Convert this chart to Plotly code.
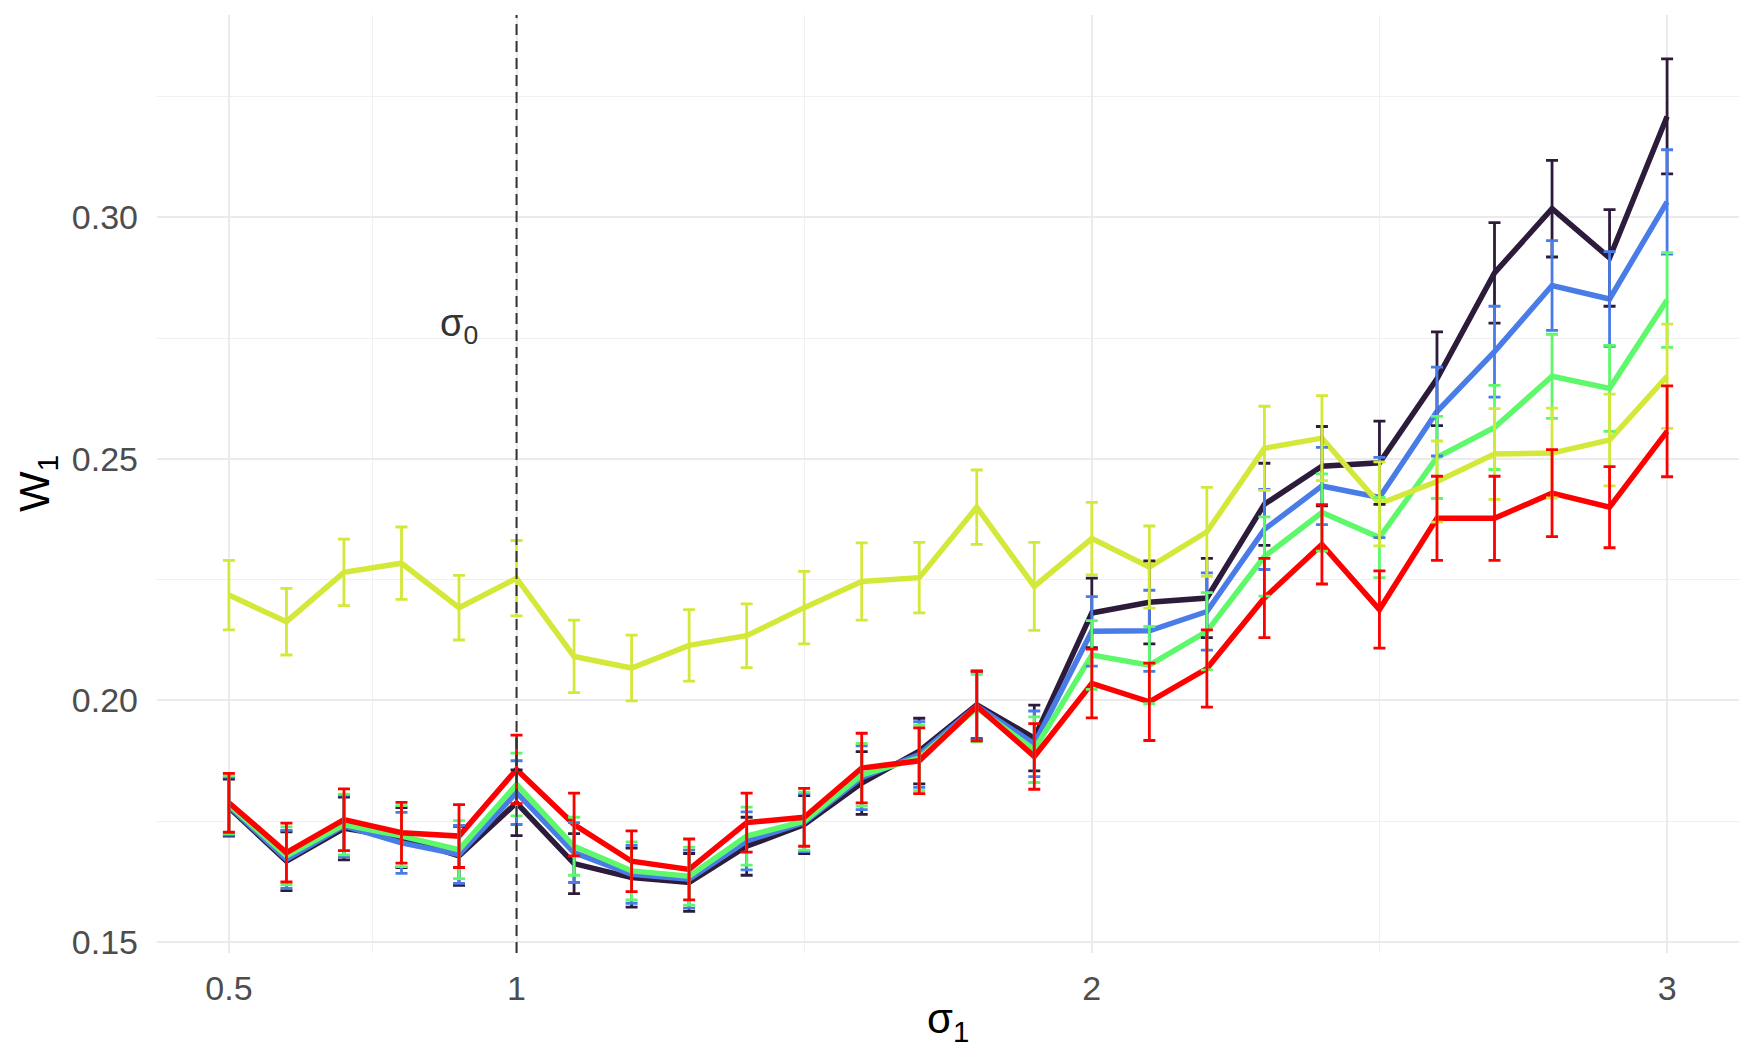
import plotly.graph_objects as go

sigma1 = [0.5, 0.6, 0.7, 0.8, 0.9, 1.0, 1.1, 1.2, 1.3, 1.4, 1.5, 1.6, 1.7,
          1.8, 1.9, 2.0, 2.1, 2.2, 2.3, 2.4, 2.5, 2.6, 2.7, 2.8, 2.9, 3.0]

w_dark = [0.1778, 0.1667, 0.1735, 0.1716, 0.1678, 0.1788, 0.1662, 0.1633, 0.1623,
          0.1698, 0.1743, 0.1829, 0.1895, 0.1991, 0.1922, 0.2181, 0.2203, 0.2212,
          0.2406, 0.2485, 0.2492, 0.2666, 0.2885, 0.3018, 0.2916, 0.3209]
e_dark = [0.0059, 0.0061, 0.0065, 0.0062, 0.0061, 0.0068, 0.0062, 0.0061, 0.0060,
          0.0060, 0.0060, 0.0065, 0.0068, 0.0070, 0.0068, 0.0072, 0.0086, 0.0082,
          0.0085, 0.0082, 0.0086, 0.0097, 0.0104, 0.0100, 0.0100, 0.0119]

w_blue = [0.1781, 0.1671, 0.1740, 0.1705, 0.1681, 0.1809, 0.1685, 0.1640, 0.1630,
          0.1709, 0.1747, 0.1840, 0.1888, 0.1988, 0.1910, 0.2143, 0.2144, 0.2184,
          0.2354, 0.2444, 0.2420, 0.2598, 0.2722, 0.2859, 0.2831, 0.3032]
e_blue = [0.0060, 0.0060, 0.0064, 0.0063, 0.0060, 0.0066, 0.0062, 0.0060, 0.0060,
          0.0060, 0.0060, 0.0066, 0.0068, 0.0070, 0.0068, 0.0072, 0.0084, 0.0080,
          0.0083, 0.0080, 0.0083, 0.0092, 0.0094, 0.0093, 0.0098, 0.0108]

w_green = [0.1784, 0.1678, 0.1743, 0.1719, 0.1691, 0.1826, 0.1698, 0.1647, 0.1636,
           0.1719, 0.1750, 0.1846, 0.1881, 0.1984, 0.1898, 0.2094, 0.2073, 0.2143,
           0.2298, 0.2389, 0.2337, 0.2503, 0.2565, 0.2671, 0.2646, 0.2829]
e_green = [0.0060, 0.0060, 0.0063, 0.0063, 0.0060, 0.0065, 0.0060, 0.0060, 0.0060,
           0.0060, 0.0060, 0.0065, 0.0068, 0.0070, 0.0068, 0.0071, 0.0080, 0.0080,
           0.0082, 0.0080, 0.0083, 0.0085, 0.0087, 0.0087, 0.0089, 0.0098]

w_yellow = [0.2218, 0.2163, 0.2265, 0.2284, 0.2192, 0.2253, 0.2091, 0.2067, 0.2114,
            0.2134, 0.2192, 0.2246, 0.2254, 0.2400, 0.2236, 0.2335, 0.2276, 0.2349,
            0.2522, 0.2543, 0.2407, 0.2453, 0.2510, 0.2512, 0.2539, 0.2671]
e_yellow = [0.0072, 0.0069, 0.0069, 0.0075, 0.0067, 0.0078, 0.0075, 0.0068, 0.0074,
            0.0066, 0.0075, 0.0080, 0.0073, 0.0077, 0.0091, 0.0075, 0.0085, 0.0092,
            0.0087, 0.0088, 0.0087, 0.0084, 0.0094, 0.0093, 0.0095, 0.0108]

w_red = [0.1788, 0.1685, 0.1753, 0.1726, 0.1719, 0.1857, 0.1743, 0.1667, 0.1650,
         0.1747, 0.1758, 0.1860, 0.1875, 0.1988, 0.1884, 0.2035, 0.1997, 0.2066,
         0.2212, 0.2323, 0.2188, 0.2377, 0.2377, 0.2429, 0.2400, 0.2557]
e_red = [0.0061, 0.0061, 0.0064, 0.0063, 0.0065, 0.0071, 0.0065, 0.0063, 0.0063,
         0.0061, 0.0060, 0.0072, 0.0068, 0.0072, 0.0068, 0.0071, 0.0080, 0.0080,
         0.0082, 0.0082, 0.0080, 0.0087, 0.0087, 0.0090, 0.0084, 0.0094]

series = [
    ("dark", w_dark, e_dark, "#2D1B3C"),
    ("blue", w_blue, e_blue, "#4A7CE8"),
    ("green", w_green, e_green, "#5EF86B"),
    ("yellow", w_yellow, e_yellow, "#D4E83A"),
    ("red", w_red, e_red, "#FF0000"),
]

x_ticks = [0.5, 1, 2, 3]
x_tick_text = ["0.5", "1", "2", "3"]
x_minor = [0.75, 1.5, 2.5]
y_ticks = [0.15, 0.20, 0.25, 0.30]
y_tick_text = ["0.15", "0.20", "0.25", "0.30"]
y_minor = [0.175, 0.225, 0.275, 0.325]
sigma0 = 1.0

FONT = "Liberation Sans, Arial, sans-serif"

fig = go.Figure()

# lines first
for name, w, e, c in series:
    fig.add_trace(go.Scatter(x=sigma1, y=w, mode="lines", name=name,
                             line=dict(color=c, width=5.5), showlegend=False,
                             hoverinfo="skip"))
# error bars on top
for name, w, e, c in series:
    fig.add_trace(go.Scatter(x=sigma1, y=w, mode="markers", name=name + " err",
                             marker=dict(size=1, color="rgba(0,0,0,0)"),
                             error_y=dict(type="data", array=e, visible=True,
                                          color=c, thickness=2.8, width=6),
                             showlegend=False, hoverinfo="skip"))

fig.add_vline(x=sigma0, line=dict(color="#333333", width=2, dash="11px,6px"))

fig.add_annotation(x=0.9, y=0.2775, text="σ<sub>0</sub>", showarrow=False,
                   font=dict(family=FONT, size=38, color="#333333"))

fig.add_annotation(xref="paper", yref="paper", x=0.5, y=0, yshift=-68,
                   text="σ<sub>1</sub>", showarrow=False, yanchor="middle",
                   font=dict(family=FONT, size=42, color="#000000"))
fig.add_annotation(xref="paper", yref="paper", x=0, y=0.5, xshift=-120,
                   text="W<sub>1</sub>", showarrow=False, textangle=-90,
                   xanchor="center", yanchor="middle",
                   font=dict(family=FONT, size=43, color="#000000"))

fig.update_layout(
    width=1760, height=1060,
    margin=dict(l=149, r=29, t=7, b=115),
    paper_bgcolor="white", plot_bgcolor="white",
    font=dict(family=FONT, size=34, color="#4D4D4D"),
    xaxis=dict(range=[0.375, 3.125], tickvals=x_ticks, ticktext=x_tick_text,
               showgrid=True, gridcolor="#EBEBEB", gridwidth=2,
               zeroline=False, showline=False, ticks="",
               ticklabelstandoff=12,
               tickfont=dict(family=FONT, size=34, color="#4D4D4D"),
               minor=dict(tickvals=x_minor, showgrid=True, gridcolor="#F0F0F0",
                          gridwidth=1.2, ticks="")),
    yaxis=dict(range=[0.1477, 0.3419], tickvals=y_ticks, ticktext=y_tick_text,
               showgrid=True, gridcolor="#EBEBEB", gridwidth=2,
               zeroline=False, showline=False, ticks="",
               ticklabelstandoff=18,
               tickfont=dict(family=FONT, size=34, color="#4D4D4D"),
               minor=dict(tickvals=y_minor, showgrid=True, gridcolor="#F0F0F0",
                          gridwidth=1.2, ticks="")),
)

fig.write_html("out.html")
